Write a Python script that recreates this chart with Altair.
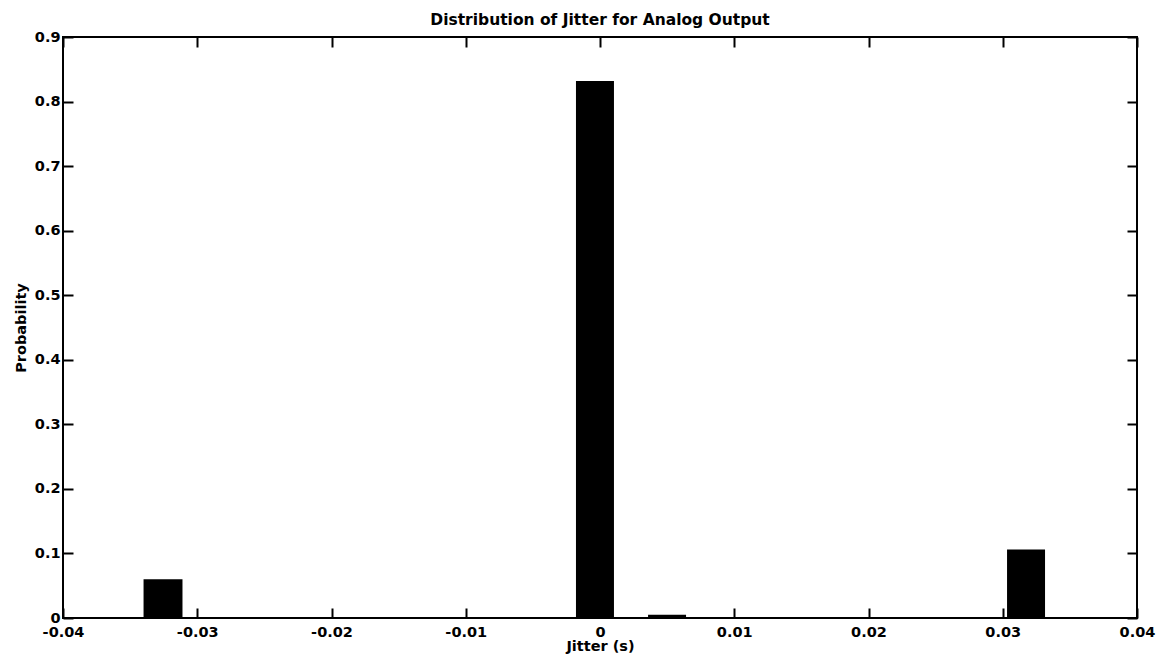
import altair as alt
import pandas as pd

# Histogram bins
bin_left = [-0.0340, -0.00179, 0.00358, 0.03032]
bin_right = [-0.0311, 0.00104, 0.00641, 0.03315]
probability = [0.060, 0.832, 0.005, 0.106]

x_ticks = [-0.04, -0.03, -0.02, -0.01, 0, 0.01, 0.02, 0.03, 0.04]
y_ticks = [0, 0.1, 0.2, 0.3, 0.4, 0.5, 0.6, 0.7, 0.8, 0.9]

df = pd.DataFrame({"x0": bin_left, "x1": bin_right, "p": probability, "base": [0.0] * len(probability)})

FONT = "DejaVu Sans"
W, H = 1074, 581

xscale = alt.Scale(domain=[-0.04, 0.04], nice=False, zero=False)
yscale = alt.Scale(domain=[0, 0.9], nice=False)

bars = alt.Chart(df).mark_rect(color="black").encode(
    x=alt.X("x0:Q", scale=xscale, title="Jitter (s)",
            axis=alt.Axis(orient="bottom", values=x_ticks, labelExpr="'' + datum.value",
                          offset=-10, tickSize=10, tickWidth=2, tickColor="black",
                          domain=False, grid=False, labelFlush=False, labelOverlap=False,
                          labelPadding=7, titlePadding=1)),
    x2="x1:Q",
    y=alt.Y("p:Q", scale=yscale, title="Probability",
            axis=alt.Axis(orient="left", values=y_ticks, labelExpr="'' + datum.value",
                          offset=-10, tickSize=10, tickWidth=2, tickColor="black",
                          domain=False, grid=False, labelOverlap=False,
                          labelPadding=3, titlePadding=6)),
    y2="base:Q",
)

mirror = alt.Chart(df).mark_rect(opacity=0).encode(
    x=alt.X("x0:Q", scale=xscale, title=None,
            axis=alt.Axis(orient="top", values=x_ticks, labels=False,
                          offset=-10, tickSize=10, tickWidth=2, tickColor="black",
                          domain=False, grid=False)),
    x2="x1:Q",
    y=alt.Y("p:Q", scale=yscale, title=None,
            axis=alt.Axis(orient="right", values=y_ticks, labels=False,
                          offset=-10, tickSize=10, tickWidth=2, tickColor="black",
                          domain=False, grid=False)),
    y2="base:Q",
)

chart = alt.layer(bars, mirror).resolve_axis(x="independent", y="independent").properties(
    width=W, height=H,
    title=alt.TitleParams("Distribution of Jitter for Analog Output", font=FONT, fontSize=15.5,
                          fontWeight="bold", color="black", offset=1, anchor="middle"),
    autosize=alt.AutoSizeParams(type="none"),
    padding={"left": 55, "top": 29, "right": 19, "bottom": 37},
).configure_view(stroke="black", strokeWidth=2).configure_axis(
    labelFont=FONT, labelFontSize=14.5, labelFontWeight="bold", labelColor="black",
    titleFont=FONT, titleFontSize=14.5, titleFontWeight="bold", titleColor="black",
)

chart.save("out.html", embed_options={"renderer": "svg", "actions": False})
